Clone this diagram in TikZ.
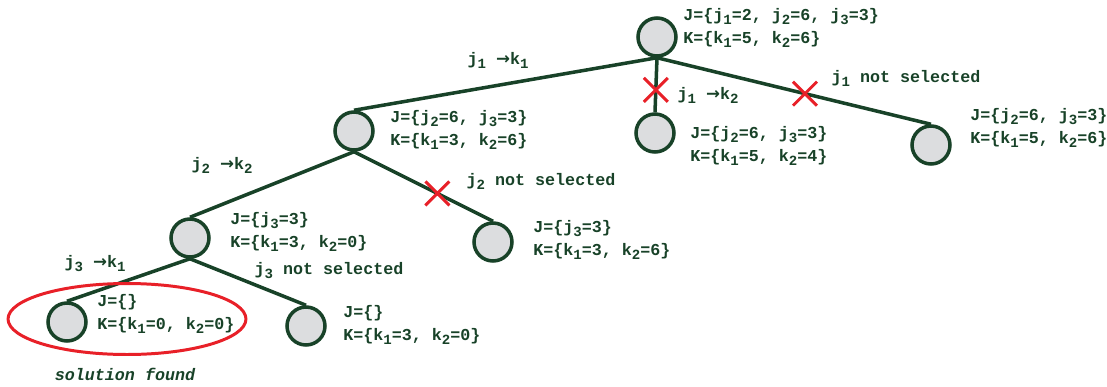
\documentclass[tikz,border=0pt]{standalone}
\usepackage{fontspec}
\setmainfont{Liberation Mono}
\newfontfamily\arrowfont{DejaVu Sans}
\usepackage{tikz}
\usetikzlibrary{positioning,shapes.misc}
\definecolor{pine}{RGB}{24,66,40}
\definecolor{nodegray}{RGB}{220,221,223}
\definecolor{crossred}{RGB}{232,32,40}
\newcommand{\ix}[1]{\raisebox{-0.45ex}{\fontsize{8}{8}\selectfont#1}}
\newcommand{\assign}[2]{j\ix{#1} {\arrowfont→}k\ix{#2}}

\begin{document}
\begin{tikzpicture}[x=0.02cm,y=-0.02cm,
  state/.style={circle,draw=pine,line width=2pt,fill=nodegray,
    minimum size=0.76cm,inner sep=0pt},
  info/.style={anchor=west,align=left,inner sep=0pt,text=pine,
    font=\bfseries\fontsize{9.5}{13}\selectfont},
  elabel/.style={inner sep=0pt,text=pine,
    font=\bfseries\fontsize{9.5}{13}\selectfont},
  branch/.style={draw=pine,line width=2pt},
  xmark/.style={cross out,draw=crossred,line width=1.7pt,
    minimum size=0.42cm,inner sep=0pt}
]
\useasboundingbox (0,0) rectangle (1107,386);
% search tree
\node[state] (n0) at (657,37) {};
\node[state] (n1) at (354,131) {};
\node[state] (n2) at (655,133) {};
\node[state] (n3) at (931,145) {};
\node[state] (n4) at (190,238) {};
\node[state] (n5) at (493,242) {};
\node[state] (n6) at (67,322) {};
\node[state] (n7) at (306,326) {};
\draw[branch] (n0.south) -- (n1.north);
\draw[branch] (n0.south) -- node[xmark,pos=0.59] (x1) {} (n2.north);
\draw[branch] (n0.south) -- node[xmark,pos=0.54] (x2) {} (n3.north);
\draw[branch] (n1.south) -- (n4.north);
\draw[branch] (n1.south) -- node[xmark,pos=0.6] (x3) {} (n5.north);
\draw[branch] (n4.south) -- (n6.north);
\draw[branch] (n4.south) -- (n7.north);
% sets at each node
\node[info] (s0) at (683,28) {J=\{j\ix{1}=2, j\ix{2}=6, j\ix{3}=3\}\\K=\{k\ix{1}=5, k\ix{2}=6\}};
\node[info] (s1) at (390,130) {J=\{j\ix{2}=6, j\ix{3}=3\}\\K=\{k\ix{1}=3, k\ix{2}=6\}};
\node[info] (s2) at (690,146) {J=\{j\ix{2}=6, j\ix{3}=3\}\\K=\{k\ix{1}=5, k\ix{2}=4\}};
\node[info] (s3) at (970,128) {J=\{j\ix{2}=6, j\ix{3}=3\}\\K=\{k\ix{1}=5, k\ix{2}=6\}};
\node[info] (s4) at (230,232) {J=\{j\ix{3}=3\}\\K=\{k\ix{1}=3, k\ix{2}=0\}};
\node[info] (s5) at (533,240) {J=\{j\ix{3}=3\}\\K=\{k\ix{1}=3, k\ix{2}=6\}};
\node[info] (s6) at (97,314) {J=\{\}\\K=\{k\ix{1}=0, k\ix{2}=0\}};
\node[info] (s7) at (343,325) {J=\{\}\\K=\{k\ix{1}=3, k\ix{2}=0\}};
% branch labels
\node[elabel] (a1) at (498,60) {\assign{1}{1}};
\node[elabel] (a2) at (708,95) {\assign{1}{2}};
\node[elabel] (d1) at (906,78) {j\ix{1} not selected};
\node[elabel] (a3) at (222,165) {\assign{2}{2}};
\node[elabel] (d2) at (541,181) {j\ix{2} not selected};
\node[elabel] (a4) at (95,264) {\assign{3}{1}};
\node[elabel] (d3) at (329,271) {j\ix{3} not selected};
% the leaf that solves it
\draw[crossred,line width=1.7pt] (127,319) ellipse [x radius=2.38cm,y radius=0.71cm];
\node[elabel,font=\bfseries\itshape\fontsize{9.5}{13}\selectfont] (found) at (125,374) {solution found};
\end{tikzpicture}
\end{document}
